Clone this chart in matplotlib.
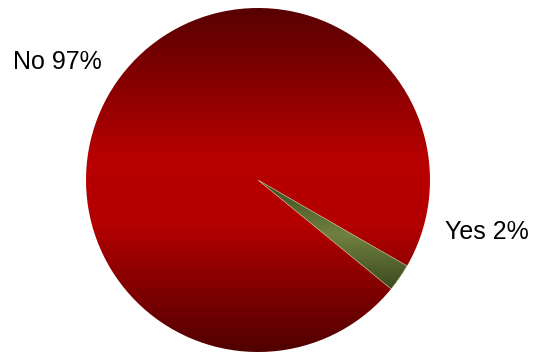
import numpy as np
import matplotlib.pyplot as plt
from matplotlib.colors import LinearSegmentedColormap

plt.rcParams['font.family'] = ['Liberation Sans', 'DejaVu Sans']

# data
labels = ['Yes', 'No']
values = [2.6, 97.4]
label_text = ['Yes 2%', 'No 97%']

# gradient colours, bottom -> top (dark edge, bright middle, dark edge)
grads = [[(0, '#3a4a1e'), (0.5, '#708040'), (1, '#3a4a1e')],
         [(0, '#500000'), (0.37, '#b40000'), (0.56, '#b80000'), (1, '#580000')]]

fig = plt.figure(figsize=(5.33, 3.53), dpi=100)
ax = fig.add_axes([0, 0, 1, 1])

cx, cy, r = 258, 173, 172
wedges, _ = ax.pie(values, startangle=-39.3, center=(cx, cy), radius=r,
                   frame=False)

for w, cols, name in zip(wedges, grads, labels):
    if name == 'No':
        x0, x1, y0, y1 = cx - r, cx + r, cy - r, cy + r
    else:
        ext = w.get_path().get_extents()
        x0, x1, y0, y1 = ext.x0, ext.x1, ext.y0, ext.y1
    cmap = LinearSegmentedColormap.from_list(name, cols)
    g = np.linspace(0, 1, 256)[:, None]
    im = ax.imshow(g, cmap=cmap, extent=[x0, x1, y0, y1], aspect='auto',
                   origin='lower', zorder=w.get_zorder(), interpolation='bilinear')
    im.set_clip_path(w)
    w.set_facecolor('none')
    if name == 'Yes':
        w.set_edgecolor('#c8c8a0')
        w.set_linewidth(0.4)
        w.set_zorder(5)

ax.text(57, 291, label_text[1], fontsize=18, ha='center', va='center')
ax.text(487, 121, label_text[0], fontsize=18, ha='center', va='center')

ax.set_xlim(0, 533)
ax.set_ylim(0, 353)
ax.set_aspect('auto')
ax.axis('off')

fig.savefig('out.png', dpi=100)
